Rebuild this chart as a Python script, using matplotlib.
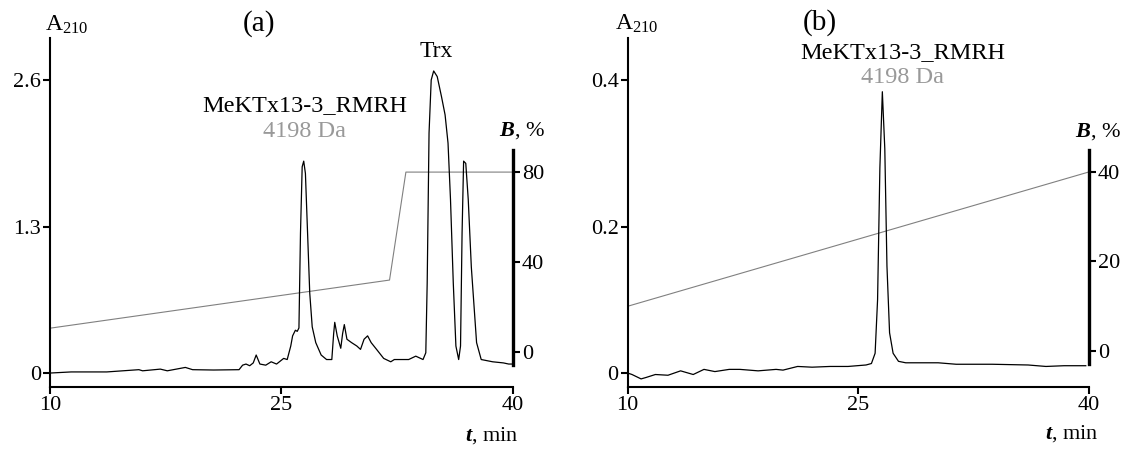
import matplotlib
matplotlib.use("Agg")
import matplotlib.pyplot as plt

plt.rcParams["font.family"] = ["Liberation Serif", "DejaVu Serif"]
plt.rcParams["mathtext.fontset"] = "custom"
plt.rcParams["mathtext.it"] = "Liberation Serif:italic:bold"
plt.rcParams["mathtext.rm"] = "Liberation Serif"

# panel (a): crude extract
t_a = [9.98, 11.37, 13.68, 15.76, 16.0, 17.15, 17.6, 18.77, 19.24, 20.6, 22.25,
       22.48, 22.7, 22.94, 23.17, 23.36, 23.6, 23.98, 24.33, 24.68, 25.14, 25.37,
       25.6, 25.72, 25.9, 26.02, 26.13, 26.23, 26.34, 26.44, 26.55, 26.69, 26.83,
       26.99, 27.22, 27.57, 27.92, 28.26, 28.38, 28.45, 28.61, 28.84, 28.96, 29.07,
       29.24, 29.54, 29.88, 30.12, 30.35, 30.58, 30.81, 31.16, 31.62, 32.08, 32.31,
       32.66, 33.24, 33.7, 34.17, 34.35, 34.44, 34.56, 34.7, 34.86, 35.09, 35.37,
       35.6, 35.79, 35.95, 36.13, 36.3, 36.48, 36.6, 36.7, 36.8, 36.94, 37.1, 37.3,
       37.64, 37.94, 38.68, 39.38, 39.72, 39.95]
A_a = [0.0, 0.01, 0.01, 0.03, 0.02, 0.035, 0.02, 0.05, 0.03, 0.027, 0.03,
       0.07, 0.08, 0.065, 0.09, 0.16, 0.08, 0.07, 0.1, 0.08, 0.13, 0.12,
       0.24, 0.33, 0.38, 0.37, 0.40, 1.24, 1.83, 1.88, 1.77, 1.24, 0.71,
       0.41, 0.27, 0.16, 0.12, 0.12, 0.35, 0.45, 0.33, 0.22, 0.35, 0.43,
       0.30, 0.27, 0.24, 0.21, 0.30, 0.33, 0.27, 0.21, 0.13, 0.10, 0.12,
       0.12, 0.12, 0.15, 0.12, 0.18, 0.80, 2.13, 2.6, 2.68, 2.63, 2.45,
       2.29, 2.04, 1.54, 0.80, 0.24, 0.12, 0.24, 1.24, 1.88, 1.86, 1.54, 0.94,
       0.27, 0.12, 0.10, 0.09, 0.08, 0.08]
grad_t_a = [10, 32, 33.06, 40]
grad_B_a = [10.6, 32, 80, 80]

# panel (b): purified peptide
t_b = [10.0, 10.28, 10.87, 11.2, 11.8, 12.62, 13.44, 14.26, 14.96, 15.67, 16.6,
       17.3, 18.48, 19.65, 20.1, 21.05, 21.99, 23.16, 24.33, 25.5, 25.85, 26.09,
       26.25, 26.4, 26.56, 26.72, 26.86, 27.03, 27.26, 27.61, 28.08, 29.02, 30.19,
       31.36, 33.7, 36.04, 37.2, 38.38, 39.79]
A_b = [0.0, -0.002, -0.008, -0.006, -0.002, -0.003, 0.003, -0.002, 0.005, 0.002,
       0.005, 0.005, 0.003, 0.005, 0.004, 0.009, 0.008, 0.009, 0.009, 0.011, 0.013,
       0.027, 0.10, 0.28, 0.384, 0.306, 0.146, 0.055, 0.027, 0.016, 0.014, 0.014,
       0.014, 0.012, 0.012, 0.011, 0.009, 0.01, 0.01]
grad_t_b = [10, 40]
grad_B_b = [10, 40]

fig = plt.figure(figsize=(11.25, 4.49), dpi=100)


def setup(ax, yticks, ylim, bticks, blim, bbounds):
    ax.set_xlim(10, 40)
    ax.set_ylim(*ylim)
    ax.set_xticks([10, 25, 40])
    ax.set_yticks(yticks)
    ax.set_yticklabels([f"{v:g}" for v in yticks])
    ax.spines[["top", "right"]].set_visible(False)
    for s in ["left", "bottom"]:
        ax.spines[s].set_linewidth(1.5)
    ax.tick_params(direction="out", length=5, width=1.5, labelsize=16, pad=1.5)
    ax.patch.set_visible(False)
    axb = ax.twinx()
    axb.set_ylim(*blim)
    axb.set_yticks(bticks)
    for s in ["top", "left", "bottom"]:
        axb.spines[s].set_visible(False)
    axb.spines["right"].set_linewidth(2.4)
    axb.spines["right"].set_bounds(*bbounds)
    axb.tick_params(direction="out", length=5, width=1.5, labelsize=16, pad=1.5)
    axb.set_zorder(ax.get_zorder() - 1)
    return axb


# (a)
ax1 = fig.add_axes([0.04444, 0.138, 0.41156, 0.7773])
ax1b = setup(ax1, [0, 1.3, 2.6], (-0.124, 2.972), [0, 40, 80], (-15.56, 139.6), (-5.8, 89.8))
ax1b.plot(grad_t_a, grad_B_a, color="#808080", lw=0.8)
ax1.plot(t_a, A_a, color="black", lw=0.9)
ax1.text(9.68, 3.035, r"A$_{\mathregular{210}}$", fontsize=17, ha="left", va="baseline",
         clip_on=False)
ax1.text(23.54, 3.10, "(a)", fontsize=21, ha="center", va="center", clip_on=False)
ax1.text(35.0, 2.85, "Trx", fontsize=17, ha="center", va="center")
ax1.text(26.52, 2.37, "MeKTx13-3_RMRH", fontsize=17.5, ha="center", va="center")
ax1.text(26.52, 2.147, "4198 Da", fontsize=17.5, ha="center", va="center", color="#999999")
ax1.text(40.58, 2.147, r"$B$, %", fontsize=16, ha="center", va="center", clip_on=False)
ax1.text(38.64, -0.55, r"$t$, min", fontsize=16, ha="center", va="center", clip_on=False)

# (b)
ax2 = fig.add_axes([0.55796, 0.138, 0.41004, 0.7773])
ax2b = setup(ax2, [0, 0.2, 0.4], (-0.0191, 0.4573), [0, 20, 40], (-8.04, 69.9), (-2.9, 44.9))
ax2b.plot(grad_t_b, grad_B_b, color="#808080", lw=0.8)
ax2.plot(t_b, A_b, color="black", lw=0.9)
ax2.text(9.17, 0.4685, r"A$_{\mathregular{210}}$", fontsize=17, ha="left", va="baseline",
         clip_on=False)
ax2.text(22.5, 0.478, "(b)", fontsize=21, ha="center", va="center", clip_on=False)
ax2.text(27.9, 0.438, "MeKTx13-3_RMRH", fontsize=17.5, ha="center", va="center")
ax2.text(27.85, 0.403, "4198 Da", fontsize=17.5, ha="center", va="center", color="#999999")
ax2.text(40.58, 0.329, r"$B$, %", fontsize=16, ha="center", va="center", clip_on=False)
ax2.text(38.9, -0.082, r"$t$, min", fontsize=16, ha="center", va="center", clip_on=False)

fig.savefig("out.png", dpi=100)
